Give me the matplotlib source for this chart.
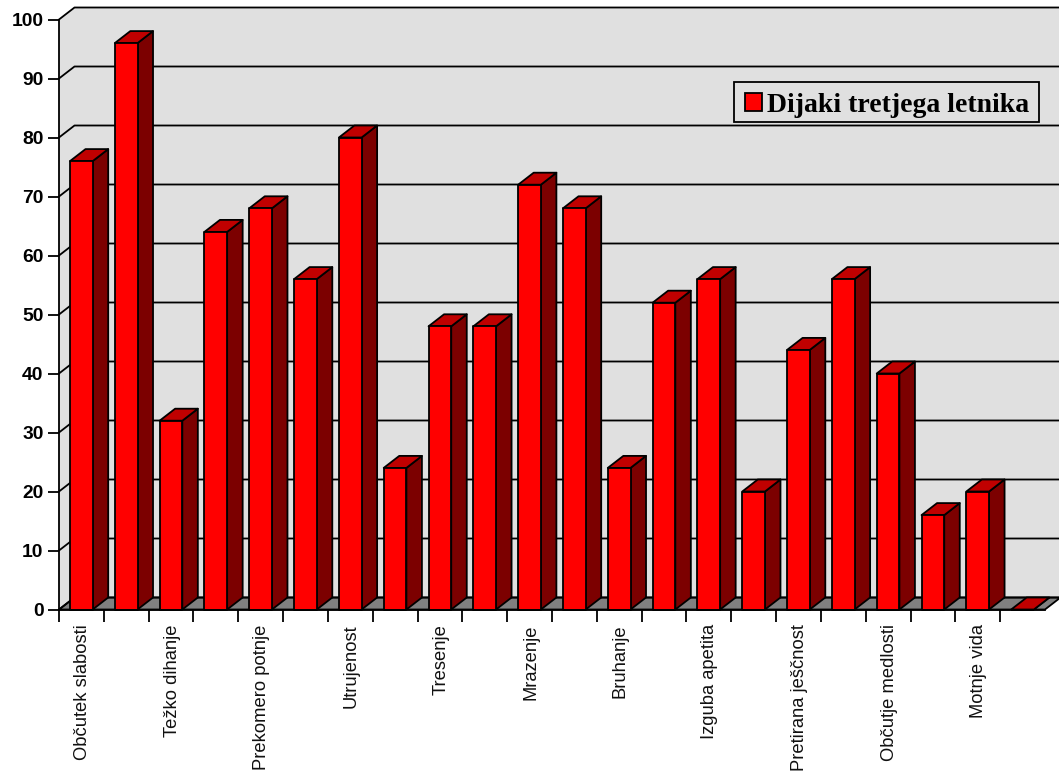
import matplotlib
matplotlib.use("Agg")
import matplotlib.pyplot as plt
from matplotlib.patches import Polygon, Patch, Rectangle

categories = ["Občutek slabosti", "", "Težko dihanje", "", "Prekomero potnje", "",
              "Utrujenost", "", "Tresenje", "", "Mrazenje", "", "Bruhanje", "",
              "Izguba apetita", "", "Pretirana ješčnost", "", "Občutje medlosti", "",
              "Motnje vida", ""]
values = [76, 96, 32, 64, 68, 56, 80, 24, 48, 48, 72, 68, 24, 52, 56, 20, 44, 56, 40, 16, 20, 0]
series_name = "Dijaki tretjega letnika"
y_ticks = list(range(0, 101, 10))

W, H = 1059, 777
L, R, B, T = 59.0, 1045.0, 609.5, 19.5
LW = 1.3
fig = plt.figure(figsize=(W / 100, H / 100), dpi=100, facecolor="white")
ax = fig.add_axes([L / W, 1 - B / H, (R - L) / W, (B - T) / H])
n = len(values)
ax.set_xlim(0, n)
ax.set_ylim(0, 100)
ax.patch.set_visible(False)
for s in ("top", "right"):
    ax.spines[s].set_visible(False)
for s in ("left", "bottom"):
    ax.spines[s].set_linewidth(LW)
    ax.spines[s].set_zorder(20)

dx = 15.5 / ((R - L) / n)
dy = 12.0 / ((B - T) / 100)
bw = 22.7 / ((R - L) / n)
off = 11.0 / ((R - L) / n)


def poly(pts, fc, z=5, ec="black"):
    ax.add_patch(Polygon(pts, closed=True, facecolor=fc, edgecolor=ec,
                         linewidth=LW if ec != "none" else 0, clip_on=False, zorder=z,
                         joinstyle="round"))


wall, floor_c, red, side, top = "#e0e0e0", "#808080", "#ff0000", "#7c0000", "#c00000"
poly([(0, 0), (dx, dy), (n + dx, dy), (n + dx, 100 + dy), (dx, 100 + dy), (0, 100)], wall, 1, "none")
poly([(0, 0), (n, 0), (n + dx, dy), (dx, dy)], floor_c, 1)
for t in y_ticks:
    ax.plot([0, dx, n + dx], [t, t + dy, t + dy], color="black", lw=LW, clip_on=False, zorder=2)

for i, v in enumerate(values):
    x0, x1 = i + off, i + off + bw
    poly([(x1, 0), (x1 + dx, dy), (x1 + dx, v + dy), (x1, v)], side)
    poly([(x0, v), (x1, v), (x1 + dx, v + dy), (x0 + dx, v + dy)], top)
    poly([(x0, 0), (x1, 0), (x1, v), (x0, v)], red)

ax.set_yticks(y_ticks)
ax.set_yticklabels([str(t) for t in y_ticks], fontfamily="Liberation Sans",
                   fontweight="bold", fontsize=13.9)
ax.tick_params(axis="y", length=8, width=LW, pad=3.2, color="black")
ax.set_xticks(range(n))
ax.set_xticklabels([""] * n)
ax.tick_params(axis="x", length=8.5, width=LW, color="black")
for i, c in enumerate(categories):
    if c:
        ax.annotate(c, xy=(i + 0.5, 0), xytext=(0.8, -10.6), textcoords="offset points",
                    xycoords="data", rotation=90, ha="center", va="top",
                    fontfamily="Liberation Sans", fontsize=13.2, color="#111111",
                    annotation_clip=False)

# legend frame and content, placed separately for exact padding
ax.add_artist(Rectangle((734 / W, 1 - 122 / H), 305 / W, 40 / H, transform=fig.transFigure,
                        facecolor=wall, edgecolor="black", linewidth=LW, clip_on=False, zorder=29))
leg = ax.legend(handles=[Patch(facecolor=red, edgecolor="black", linewidth=LW, label=series_name)],
                loc="upper left", bbox_to_anchor=(745 / W, 1 - 93 / H),
                bbox_transform=fig.transFigure, borderaxespad=0, borderpad=0,
                prop={"family": "Liberation Serif", "weight": "bold", "size": 20.0},
                frameon=False, handlelength=0.6, handleheight=0.6, handletextpad=0.2)
leg.set_zorder(30)

fig.savefig("out.png", dpi=100)
